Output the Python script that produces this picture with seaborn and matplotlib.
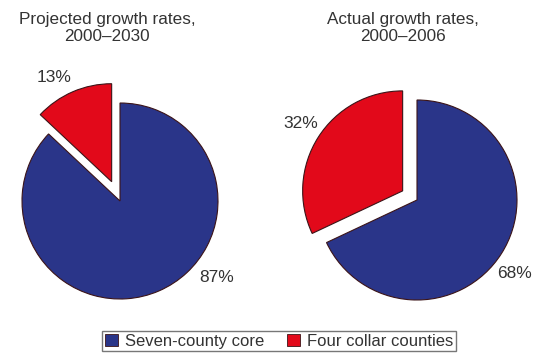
import matplotlib
matplotlib.use("Agg")
import matplotlib.pyplot as plt
import matplotlib.patches as mpatches
import seaborn as sns

categories = ["Four collar counties", "Seven-county core"]
projected = [13, 87]
actual = [32, 68]
titles = ["Projected growth rates,\n2000\u20132030", "Actual growth rates,\n2000\u20132006"]
legend_order = ["Seven-county core", "Four collar counties"]

sns.set_theme(style="white")
plt.rcParams["font.family"] = ["Liberation Sans", "DejaVu Sans"]

colors = {"Four collar counties": "#e2091a", "Seven-county core": "#2a3589"}
pal = [colors[c] for c in categories]

fig = plt.figure(figsize=(5.37, 3.58), dpi=100)
ax = fig.add_axes([0, 0, 1, 1])

wp = dict(edgecolor="#3b1418", linewidth=0.8)
ax.pie(projected, colors=pal, startangle=90, center=(120, 157), radius=98,
       explode=[21, 0], wedgeprops=wp, frame=False)
ax.pie(actual, colors=pal, startangle=90, center=(417, 158), radius=100,
       explode=[17, 0], wedgeprops=wp, frame=False)
ax.set_xlim(0, 537)
ax.set_ylim(0, 358)
ax.set_aspect("equal")
ax.axis("off")

tc = "#333333"
fs = 12.3
lfs = 12.5
ax.text(54, 281, f"{projected[0]}%", ha="center", va="center", fontsize=lfs, color=tc)
ax.text(217, 80, f"{projected[1]}%", ha="center", va="center", fontsize=lfs, color=tc)
ax.text(301, 235, f"{actual[0]}%", ha="center", va="center", fontsize=lfs, color=tc)
ax.text(515, 85, f"{actual[1]}%", ha="center", va="center", fontsize=lfs, color=tc)

ax.text(107, 330, titles[0], ha="center", va="center", fontsize=fs, color=tc, linespacing=1.15)
ax.text(403, 330, titles[1], ha="center", va="center", fontsize=fs, color=tc, linespacing=1.15)

handles = [mpatches.Patch(facecolor=colors[c], edgecolor="#3b1418", linewidth=0.6, label=c)
           for c in legend_order]
leg = fig.legend(handles=handles, loc="upper center", bbox_to_anchor=(279 / 537, 1 - 331 / 358),
                 ncol=2, frameon=True, fancybox=False, fontsize=12, handlelength=0.8,
                 handleheight=0.8, handletextpad=0.4, columnspacing=1.4, borderpad=0.15,
                 borderaxespad=0.0, edgecolor="#555555")
leg.get_frame().set_linewidth(1.0)
for t in leg.get_texts():
    t.set_color(tc)

fig.savefig("out.png", dpi=100)
